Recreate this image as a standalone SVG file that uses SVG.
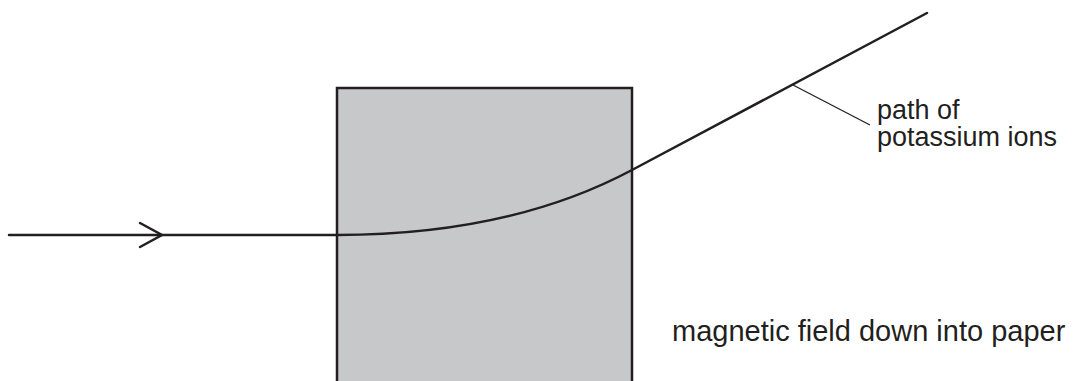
<svg xmlns="http://www.w3.org/2000/svg" width="1077" height="381" viewBox="0 0 1077 381">
<style>
.ln{fill:none;stroke:#231f20;stroke-width:2.5;stroke-linecap:round}
.lbl{font-family:"Liberation Sans",Arial,sans-serif;font-size:27px;fill:#231f20}
</style>
<rect width="1077" height="381" fill="#fff"/>
<g id="field-region">
<rect x="337" y="88" width="295" height="310" fill="#c7c8ca" stroke="#231f20" stroke-width="2.5"/>
</g>
<g id="connectors">
<path class="ln" d="M9,235 H337 Q510,235 632,170 L927,13"/>
<path class="ln" d="M140,223 L162,235 L140,247"/>
<line x1="793" y1="85" x2="870" y2="125" stroke="#231f20" stroke-width="1.3"/>
</g>
<g id="label-path">
<text class="lbl" x="877" y="119">path of</text>
<text class="lbl" x="877" y="146">potassium ions</text>
</g>
<g id="label-field">
<text class="lbl" x="672" y="341" style="font-size:29px">magnetic field down into paper</text>
</g>
</svg>
